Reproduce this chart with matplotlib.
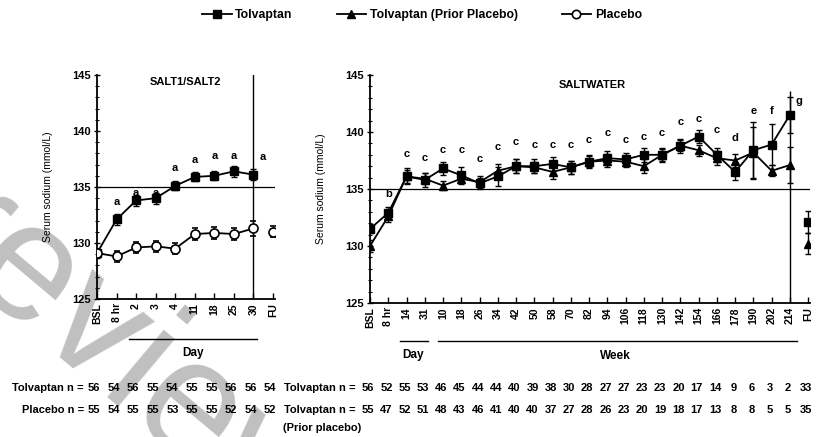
import matplotlib
matplotlib.use("Agg")
import matplotlib.pyplot as plt
import matplotlib.transforms as mtransforms
from matplotlib.lines import Line2D
from matplotlib.ticker import MultipleLocator

plt.rcParams['font.family'] = ['Liberation Sans', 'DejaVu Sans']
plt.rcParams['font.weight'] = 'bold'

# SALT1/SALT2 panel
salt_labels = ['BSL', '8 hr', '2', '3', '4', '11', '18', '25', '30', 'FU']
salt_tolv = [129.1, 132.1, 133.8, 134.0, 135.1, 135.9, 136.0, 136.4, 136.1]
salt_tolv_err = [0.4, 0.5, 0.5, 0.5, 0.4, 0.4, 0.4, 0.5, 0.5]
salt_plac = [129.1, 128.8, 129.6, 129.7, 129.5, 130.8, 130.9, 130.8, 131.3]
salt_plac_err = [0.4, 0.5, 0.5, 0.5, 0.5, 0.5, 0.5, 0.5, 0.7]
salt_plac_fu, salt_plac_fu_err = 131.0, 0.5
salt_sig_y = [133.7, 134.5, 134.5, 136.7, 137.4, 137.8, 137.8, 137.7]
salt_n_tolv = [56, 54, 56, 55, 54, 55, 55, 56, 56, 54]
salt_n_plac = [55, 54, 55, 55, 53, 55, 55, 52, 54, 52]

# SALTWATER panel
sw_labels = ['BSL', '8 hr', '14', '31', '10', '18', '26', '34', '42', '50', '58',
             '70', '82', '94', '106', '118', '130', '142', '154', '166', '178',
             '190', '202', '214', 'FU']
sw_tolv = [131.5, 132.9, 136.1, 135.8, 136.8, 136.2, 135.5, 136.1, 137.0, 137.0,
           137.2, 136.9, 137.4, 137.7, 137.6, 138.0, 138.0, 138.8, 139.6, 138.0,
           136.5, 138.4, 138.9, 141.5]
sw_tolv_err = [0.4, 0.5, 0.7, 0.6, 0.6, 0.7, 0.5, 0.8, 0.6, 0.6, 0.6, 0.6, 0.6,
               0.6, 0.6, 0.6, 0.6, 0.6, 0.6, 0.6, 0.7, 2.5, 1.8, 1.6]
sw_prior = [130.0, 132.6, 136.1, 135.9, 135.3, 135.9, 135.6, 136.6, 137.0, 136.9,
            136.5, 136.9, 137.4, 137.5, 137.4, 137.0, 138.0, 138.8, 138.4, 137.7,
            137.5, 138.2, 136.6, 137.1]
sw_prior_err = [0.5, 0.5, 0.6, 0.5, 0.4, 0.5, 0.5, 0.6, 0.6, 0.5, 0.6, 0.6, 0.5,
                0.6, 0.5, 0.6, 0.5, 0.5, 0.5, 0.6, 0.6, 2.2, 0.5, 1.6]
sw_tolv_fu, sw_tolv_fu_err = 132.1, 1.0
sw_prior_fu, sw_prior_fu_err = 130.2, 0.9
sw_sig = ['b'] + ['c'] * 18 + ['d', 'e', 'f', 'g']
sw_sig_x = list(range(1, 23)) + [23.5]
sw_sig_y = [134.6, 138.1, 137.7, 138.4, 138.4, 137.6, 138.7, 139.1, 138.85, 138.9,
            138.9, 139.3, 139.9, 139.3, 139.6, 139.9, 140.9, 141.1, 140.2, 139.5,
            141.8, 141.8, 142.7]
sw_n_tolv = [56, 52, 55, 53, 46, 45, 44, 44, 40, 39, 38, 30, 28, 27, 27, 23, 23,
             20, 17, 14, 9, 6, 3, 2, 33]
sw_n_prior = [55, 47, 52, 51, 48, 43, 46, 41, 40, 40, 37, 27, 28, 26, 23, 20, 19,
              18, 17, 13, 8, 8, 5, 5, 35]

W, H = 816, 437
fig = plt.figure(figsize=(W / 100, H / 100), dpi=100)


def px(x, y):
    return x / W, 1 - y / H


ax1 = fig.add_axes([97 / W, 1 - 299 / H, 178 / W, 224 / H])
ax2 = fig.add_axes([370 / W, 1 - 303 / H, 440 / W, 228 / H])

ebkw = dict(color='black', lw=1.3, elinewidth=1.0, capsize=2.4, capthick=1.0)


def style_axes(ax, labels, xmax):
    ax.set_ylim(125, 145)
    ax.set_xlim(0, xmax)
    for s in ['top', 'right']:
        ax.spines[s].set_visible(False)
    for s in ['left', 'bottom']:
        ax.spines[s].set_linewidth(1.3)
    ax.set_yticks([125, 130, 135, 140, 145])
    ax.yaxis.set_minor_locator(MultipleLocator(1))
    ax.tick_params(axis='y', which='major', direction='inout', length=5, width=1,
                   labelsize=8, pad=2)
    ax.tick_params(axis='y', which='minor', direction='inout', length=3, width=0.8)
    ax.set_xticks(range(len(labels)))
    ax.set_xticklabels(labels, rotation=90, fontsize=7.5)
    ax.tick_params(axis='x', direction='in', length=4, width=1, pad=3)
    ax.set_ylabel('Serum sodium (mmol/L)', fontsize=7.5, labelpad=14)


# left panel
x1 = range(len(salt_tolv))
ax1.errorbar(x1, salt_tolv, yerr=salt_tolv_err, marker='s', ms=5.5, mfc='black',
             mec='black', zorder=3, **ebkw)
ax1.errorbar(x1, salt_plac, yerr=salt_plac_err, marker='o', ms=6.5, mfc='white',
             mec='black', mew=1.2, zorder=4, **ebkw)
ax1.errorbar([9], [salt_plac_fu], yerr=[salt_plac_fu_err], marker='o', ms=6.5,
             mfc='white', mec='black', mew=1.2, **ebkw)
ax1.axhline(135, color='black', lw=0.9)
ax1.axvline(8, color='black', lw=1.0)
for i, y in enumerate(salt_sig_y):
    xi = i + 1 if i < 7 else 8.45
    ax1.text(xi, y, 'a', ha='center', va='center', fontsize=8)
ax1.text(4.5, 144.8, 'SALT1/SALT2', ha='center', va='top', fontsize=8)
style_axes(ax1, salt_labels, 9.1)

# right panel
x2 = range(len(sw_tolv))
ax2.errorbar(x2, sw_tolv, yerr=sw_tolv_err, marker='s', ms=5.5, mfc='black',
             mec='black', zorder=3, **ebkw)
ax2.errorbar(x2, sw_prior, yerr=sw_prior_err, marker='^', ms=5.5, mfc='black',
             mec='black', zorder=3, **ebkw)
ax2.errorbar([24], [sw_tolv_fu], yerr=[sw_tolv_fu_err], marker='s', ms=5.5,
             mfc='black', mec='black', **ebkw)
ax2.errorbar([24], [sw_prior_fu], yerr=[sw_prior_fu_err], marker='^', ms=5.5,
             mfc='black', mec='black', **ebkw)
ax2.axhline(135, color='black', lw=0.9)
ax2.vlines(23, 125, 143.6, color='black', lw=1.0)
for t, xs, y in zip(sw_sig, sw_sig_x, sw_sig_y):
    ax2.text(xs, y, t, ha='center', va='center', fontsize=8)
ax2.text(12.2, 144.6, 'SALTWATER', ha='center', va='top', fontsize=8)
style_axes(ax2, sw_labels, 24.1)

# Day / Week bars under the axes
for (xa, xb, yl), (tx, ty, txt) in [((129, 257, 339), (193, 353, 'Day')),
                                     ((400, 428, 341), (413, 355, 'Day')),
                                     ((438, 797, 341), (615, 356, 'Week'))]:
    (fx0, fy), (fx1, _) = px(xa, yl), px(xb, yl)
    fig.add_artist(Line2D([fx0, fx1], [fy, fy], color='black', lw=1.0))
    fx, fy2 = px(tx, ty)
    fig.text(fx, fy2, txt, ha='center', va='center', fontsize=8.5)

# n at risk rows, aligned under the tick columns
nfs = 8
row1, row2, row3 = 1 - 388 / H, 1 - 410 / H, 1 - 428 / H
tr1 = mtransforms.blended_transform_factory(ax1.transData, fig.transFigure)
tr2 = mtransforms.blended_transform_factory(ax2.transData, fig.transFigure)
for i, (a, b) in enumerate(zip(salt_n_tolv, salt_n_plac)):
    ax1.text(i - 0.15, row1, str(a), transform=tr1, ha='center', va='center',
             fontsize=nfs, clip_on=False)
    ax1.text(i - 0.15, row2, str(b), transform=tr1, ha='center', va='center',
             fontsize=nfs, clip_on=False)
for i, (a, b) in enumerate(zip(sw_n_tolv, sw_n_prior)):
    ax2.text(i - 0.1, row1, str(a), transform=tr2, ha='center', va='center',
             fontsize=nfs, clip_on=False)
    ax2.text(i - 0.1, row2, str(b), transform=tr2, ha='center', va='center',
             fontsize=nfs, clip_on=False)
fig.text(84 / W, row1, 'Tolvaptan n =', ha='right', va='center', fontsize=nfs)
fig.text(84 / W, row2, 'Placebo n =', ha='right', va='center', fontsize=nfs)
fig.text(284 / W, row1, 'Tolvaptan n =', ha='left', va='center', fontsize=nfs)
fig.text(284 / W, row2, 'Tolvaptan n =', ha='left', va='center', fontsize=nfs)
fig.text(283 / W, row3, '(Prior placebo)', ha='left', va='center', fontsize=nfs)

# legend
handles = [
    Line2D([], [], color='black', lw=1.3, marker='s', ms=5.5),
    Line2D([], [], color='black', lw=1.3, marker='^', ms=5.5),
    Line2D([], [], color='black', lw=1.3, marker='o', ms=6, mfc='white', mew=1.2),
]
fig.legend(handles, ['Tolvaptan', 'Tolvaptan (Prior Placebo)', 'Placebo'],
           loc='center', bbox_to_anchor=(422 / W, 1 - 15 / H), ncol=3,
           frameon=False, fontsize=8.8, handlelength=2.4, handletextpad=0.3,
           columnspacing=3.6)

# grey diagonal stamp
fig.text(87 / W, 1 - 336 / H, 'Preview', fontsize=120, fontweight='normal',
         color='black', alpha=0.25, rotation=-40, ha='center', va='center',
         zorder=10)

fig.savefig('out.png', dpi=100)
